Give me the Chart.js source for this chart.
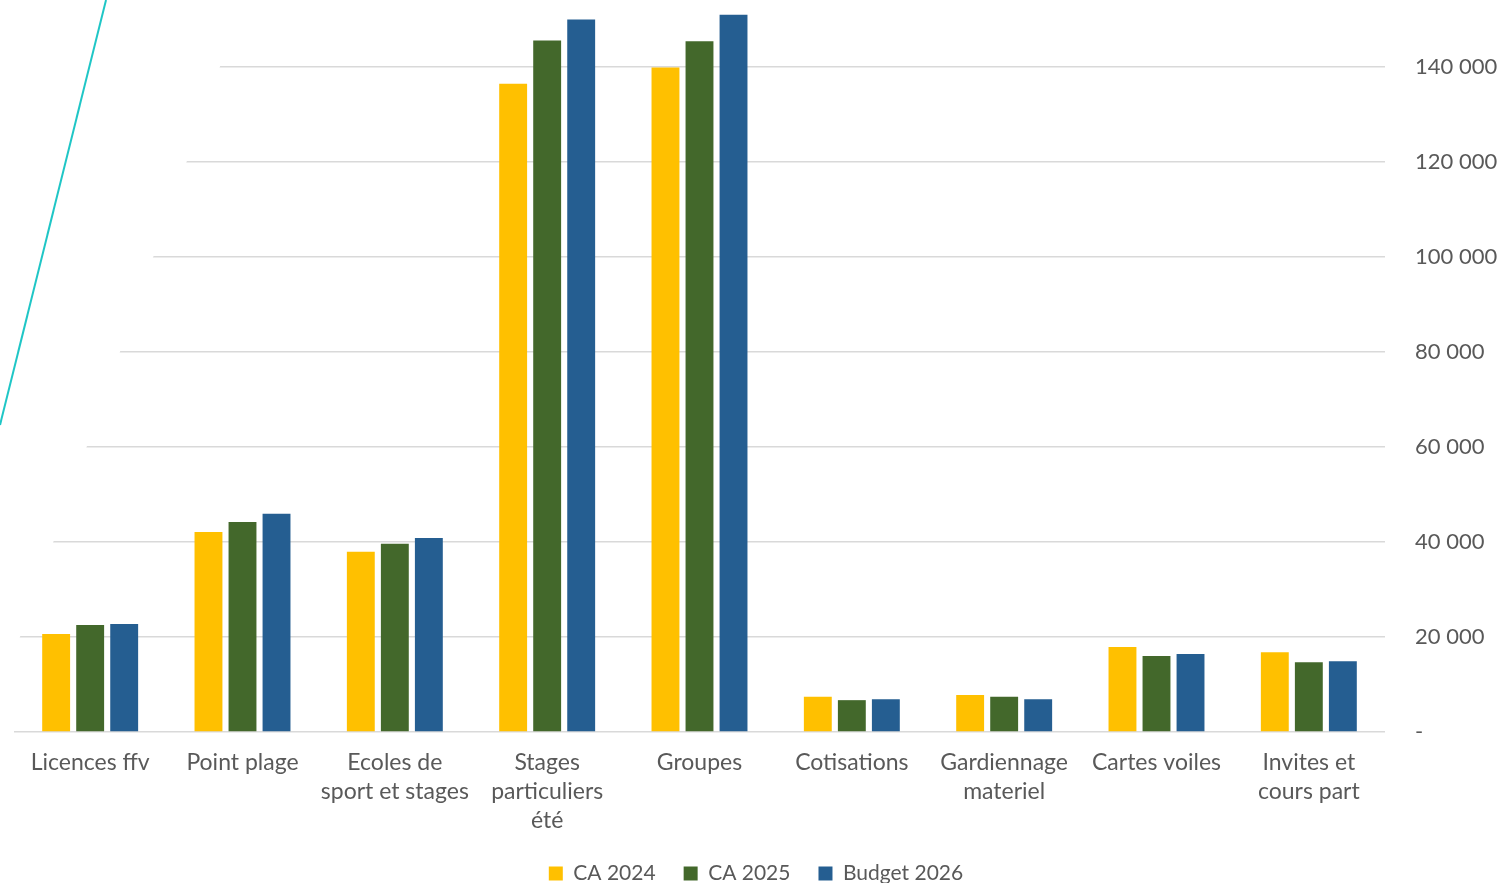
<!DOCTYPE html>
<html>
<head>
<meta charset="utf-8">
<script src="https://cdn.jsdelivr.net/npm/chart.js@4/dist/chart.umd.min.js"></script>
<style>
  html, body { margin: 0; padding: 0; overflow: hidden; background: #fff; }
  #wrap { width: 1498px; height: 894px; }
</style>
</head>
<body>
<div id="wrap"><canvas id="chart"></canvas></div>
<script>
const categories = [
  'Licences ffv',
  'Point plage',
  ['Ecoles de', 'sport et stages'],
  ['Stages', 'particuliers', 'été'],
  'Groupes',
  'Cotisations',
  ['Gardiennage', 'materiel'],
  'Cartes voiles',
  ['Invites et', 'cours part']
];
const seriesNames = ['CA 2024', 'CA 2025', 'Budget 2026'];
const ca2024 = [20600, 42100, 37900, 136400, 139800, 7400, 7800, 17900, 16800];
const ca2025 = [22500, 44200, 39600, 145500, 145300, 6700, 7400, 16000, 14700];
const budget2026 = [22700, 45900, 40800, 149900, 150900, 6900, 6900, 16400, 14900];
const yTicks = [0, 20000, 40000, 60000, 80000, 100000, 120000, 140000];

const colors = ['#FFC000', '#43682B', '#255E91'];
const fontFamily = 'Lato, "Open Sans", sans-serif';
const textGrey = '#595959';

function fmt(v) {
  if (v === 0) return '-';
  return String(v).replace(/\B(?=(\d{3})+(?!\d))/g, ' ');
}

// masque blanc à gauche de la grille + trait cyan
const decoPlugin = {
  id: 'deco',
  beforeDatasetsDraw(chart) {
    const ctx = chart.ctx;
    const y = chart.scales.y;
    const area = chart.chartArea;
    const y1 = y.getPixelForValue(20000), x1 = 20;
    const y2 = y.getPixelForValue(140000), x2 = 220;
    const k = (x2 - x1) / (y2 - y1);
    const xAt = yy => x1 + (yy - y1) * k;
    const yb = area.bottom + 3;
    ctx.save();
    ctx.fillStyle = '#fff';
    ctx.beginPath();
    ctx.moveTo(0, 0);
    ctx.lineTo(xAt(0), 0);
    ctx.lineTo(xAt(yb), yb);
    ctx.lineTo(0, yb);
    ctx.closePath();
    ctx.fill();
    ctx.restore();
  },
  afterDraw(chart) {
    const ctx = chart.ctx;
    ctx.save();
    ctx.strokeStyle = '#1FC6C6';
    ctx.lineWidth = 2;
    ctx.beginPath();
    ctx.moveTo(106, 0);
    ctx.lineTo(0, 425);
    ctx.stroke();
    ctx.restore();
  }
};

const ctx = document.getElementById('chart').getContext('2d');
new Chart(ctx, {
  type: 'bar',
  data: {
    labels: categories,
    datasets: [
      { label: seriesNames[0], data: ca2024, backgroundColor: colors[0] },
      { label: seriesNames[1], data: ca2025, backgroundColor: colors[1] },
      { label: seriesNames[2], data: budget2026, backgroundColor: colors[2] }
    ]
  },
  options: {
    responsive: true,
    maintainAspectRatio: false,
    animation: false,
    layout: { padding: { left: 14, right: 0, top: 0, bottom: 0 } },
    datasets: { bar: { categoryPercentage: 0.67, barPercentage: 0.82 } },
    plugins: {
      legend: {
        position: 'bottom',
        labels: {
          boxWidth: 14,
          boxHeight: 14,
          padding: 28,
          color: textGrey,
          font: { family: fontFamily, size: 21 }
        }
      },
      tooltip: { enabled: false }
    },
    scales: {
      x: {
        grid: { display: false, drawTicks: false },
        border: { display: false },
        afterFit(scale) {
          scale.height = 103;
        },
        ticks: {
          color: textGrey,
          padding: 16,
          maxRotation: 0,
          autoSkip: false,
          font: { family: fontFamily, size: 23, lineHeight: '29px' }
        }
      },
      y: {
        position: 'right',
        min: 0,
        max: 154000,
        afterBuildTicks(scale) {
          scale.ticks = yTicks.map(v => ({ value: v }));
        },
        afterFit(scale) {
          scale.width = 113;
          scale.paddingTop = 0;
          scale.paddingBottom = 0;
        },
        grid: { color: '#D9D9D9', lineWidth: 1.5, drawTicks: false },
        border: { display: false },
        ticks: {
          color: textGrey,
          padding: 30,
          font: { family: fontFamily, size: 22 },
          callback: v => fmt(v)
        }
      }
    }
  },
  plugins: [decoPlugin]
});
</script>
</body>
</html>
